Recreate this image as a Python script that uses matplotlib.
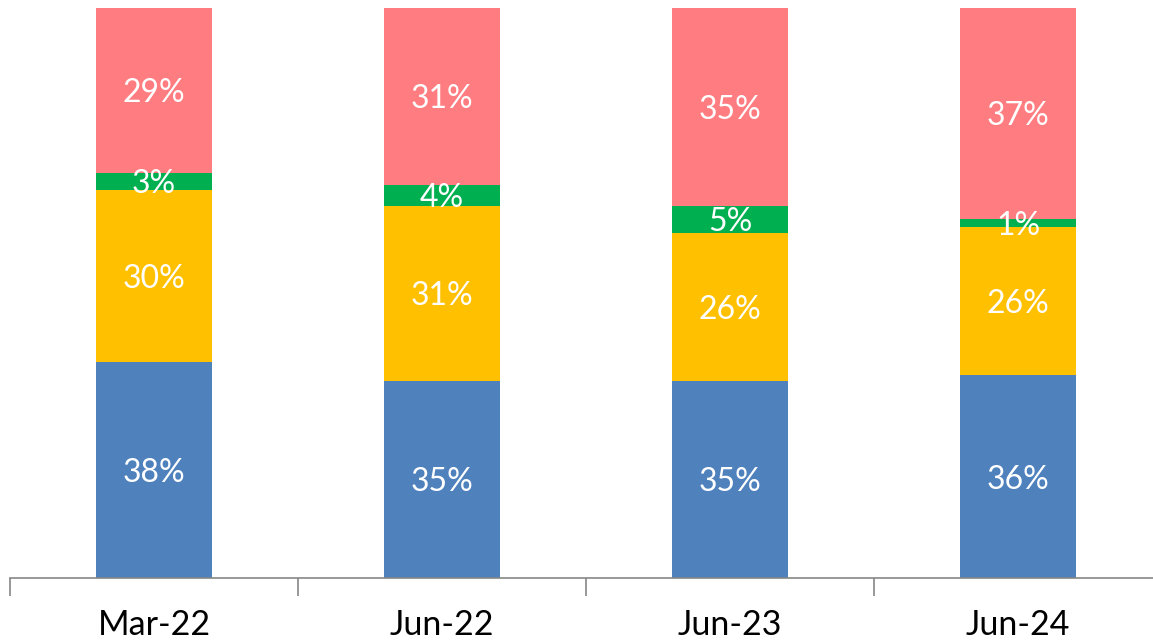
import matplotlib
matplotlib.use('Agg')
import matplotlib.pyplot as plt
import numpy as np

# periods and shares (%) per segment, bottom to top
periods = ['Mar-22', 'Jun-22', 'Jun-23', 'Jun-24']
blue_vals = [37.9, 34.6, 34.6, 35.6]
yellow_vals = [30.2, 30.7, 26.0, 26.0]
green_vals = [3.0, 3.7, 4.6, 1.4]
red_vals = [28.9, 31.0, 34.8, 37.0]

series = [blue_vals, yellow_vals, green_vals, red_vals]
colors = ['#4F81BD', '#FFC000', '#00B050', '#FF7C80']

plt.rcParams['font.family'] = ['Lato', 'DejaVu Sans']

W, H = 1153, 642
fig = plt.figure(figsize=(W / 100, H / 100), dpi=100)
# axes runs a little past the right edge, as in the reference
ax = fig.add_axes([10 / W, (H - 578) / H, 1152 / W, 570 / H])

x = np.arange(len(periods))
bottom = np.zeros(len(periods))
for vals, col in zip(series, colors):
    vals = np.array(vals)
    ax.bar(x, vals, width=0.4, bottom=bottom, color=col, zorder=2)
    for xi, b, v in zip(x, bottom, vals):
        ax.text(xi, b + v / 2, '%.0f%%' % v, ha='center', va='center_baseline',
                color='white', fontsize=23)
    bottom += vals

ax.set_xlim(-0.5, len(periods) - 0.5)
ax.set_ylim(0, 100)

for s in ['top', 'right', 'left']:
    ax.spines[s].set_visible(False)
ax.spines['bottom'].set_color('#868686')
ax.spines['bottom'].set_linewidth(1.2)

ax.set_yticks([])
ax.set_xticks(np.arange(len(periods) + 1) - 0.5, minor=False)
ax.set_xticklabels([])
ax.tick_params(axis='x', which='major', length=13, color='#868686', width=1.2)
ax.set_xticks(x, minor=True)
ax.set_xticklabels(periods, minor=True, fontsize=24.5)
ax.tick_params(axis='x', which='minor', length=0, pad=22)

fig.savefig('out.png', dpi=100)
